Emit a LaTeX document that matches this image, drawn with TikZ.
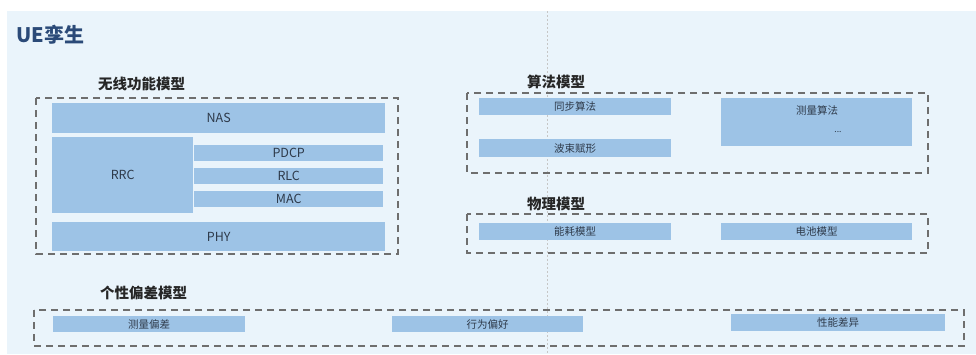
\documentclass[tikz,border=0pt]{standalone}
\usepackage{fontspec}
\setmainfont{Noto Sans CJK SC}
\definecolor{panelbg}{HTML}{EAF4FB}
\definecolor{boxfill}{HTML}{9DC3E6}
\definecolor{boxtext}{HTML}{2E3A4A}
\definecolor{titleblue}{HTML}{2B4A78}
\definecolor{dashgray}{HTML}{6E6E6E}
\tikzset{
  bx/.style={fill=boxfill, draw=none, inner sep=0pt, anchor=north west, text=boxtext,
    font=\fontsize{12.5}{14}\selectfont},
  cbx/.style={bx, font=\fontsize{10.5}{12}\selectfont},
  grp/.style={draw=dashgray, line width=1.1pt, dash pattern=on 7pt off 5pt, fill=none},
  sec/.style={font=\bfseries\fontsize{14.5}{16}\selectfont, text=black!85, inner sep=0pt, anchor=west},
}
\begin{document}
\begin{tikzpicture}[x=1pt,y=-1pt]
\useasboundingbox (0,0) rectangle (976,354);
\fill[white] (0,0) rectangle (976,354);
\fill[panelbg] (7,11) rectangle (976,354);
\draw[gray!45, line width=0.6pt, dash pattern=on 2pt off 2pt] (547,11) -- (547,354);

\node[font=\bfseries\fontsize{20}{22}\selectfont, text=titleblue, inner sep=0pt, anchor=west] (title) at (16,35) {UE孪生};

% wireless
\node[sec] (s1) at (98,84) {无线功能模型};
\draw[grp] (36,98) rectangle (398,254);
\node[bx, minimum width=333pt, minimum height=30pt] (nas) at (52,103) {NAS};
\node[bx, minimum width=141pt, minimum height=76pt] (rrc) at (52,137) {RRC};
\node[bx, minimum width=189pt, minimum height=16pt] (pdcp) at (194,145) {PDCP};
\node[bx, minimum width=189pt, minimum height=16pt] (rlc) at (194,168) {RLC};
\node[bx, minimum width=189pt, minimum height=16pt] (mac) at (194,191) {MAC};
\node[bx, minimum width=333pt, minimum height=29pt] (phy) at (52,222) {PHY};

% algorithm
\node[sec] (s2) at (527,82) {算法模型};
\draw[grp] (467,93) rectangle (928,173);
\node[cbx, minimum width=192pt, minimum height=17pt] (sync) at (479,98) {同步算法};
\node[cbx, minimum width=192pt, minimum height=18pt] (bf) at (479,139) {波束赋形};
\node[cbx, minimum width=191pt, minimum height=48pt] (meas) at (721,98) {};
\node[font=\fontsize{10.5}{12}\selectfont, text=boxtext, inner sep=0pt] (measl) at (817,110) {测量算法};
\node[font=\fontsize{8.5}{9}\selectfont, text=boxtext, inner sep=0pt] (dots) at (838,132) {...};

% physical
\node[sec] (s3) at (527,204) {物理模型};
\draw[grp] (467,214) rectangle (928,253);
\node[cbx, minimum width=192pt, minimum height=17pt] (energy) at (479,223) {能耗模型};
\node[cbx, minimum width=191pt, minimum height=17pt] (battery) at (721,223) {电池模型};

% personal deviation
\node[sec] (s4) at (100,293) {个性偏差模型};
\draw[grp] (34,310) rectangle (964,346);
\node[cbx, minimum width=192pt, minimum height=16pt] (mdev) at (53,316) {测量偏差};
\node[cbx, minimum width=191pt, minimum height=16pt] (behav) at (392,316) {行为偏好};
\node[cbx, minimum width=214pt, minimum height=17pt] (perf) at (731,314) {性能差异};
\end{tikzpicture}
\end{document}
